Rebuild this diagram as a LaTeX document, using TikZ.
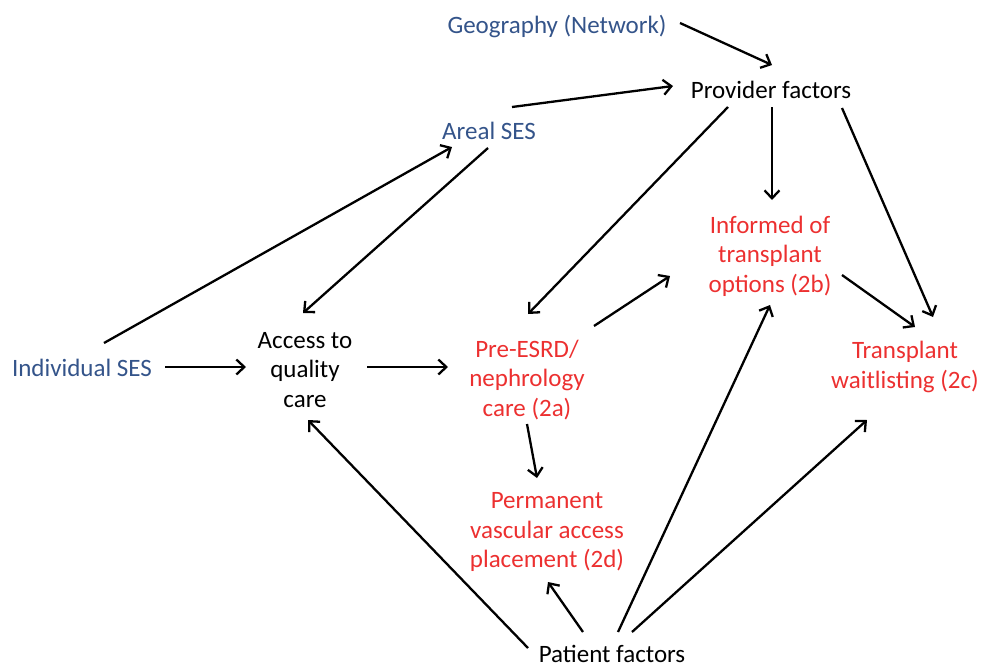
\documentclass[tikz,border=0pt]{standalone}
\usepackage{fontspec}
\setmainfont{Carlito}
\usetikzlibrary{arrows.meta}
\definecolor{dblue}{RGB}{52,84,138}
\definecolor{dred}{RGB}{236,48,48}
\tikzset{
  lbl/.style={align=center,inner sep=0pt,font=\fontsize{25}{29.5}\selectfont},
  bl/.style={lbl,text=dblue},
  rd/.style={lbl,text=dred},
  bk/.style={lbl,text=black},
  arr/.style={line width=2.3pt,-{Straight Barb[length=8pt,width=15pt]}}
}
\begin{document}
\begin{tikzpicture}[x=1pt,y=-1pt]
\useasboundingbox (0,0) rectangle (994,667);
\node[bl] (geo) at (557,27) {Geography (Network)};
\node[bk] (prov) at (771,90) {Provider factors};
\node[bl] (areal) at (489,131) {Areal SES};
\node[bl] (indiv) at (82,368) {Individual SES};
\node[bk] (access) at (305,370) {Access to\\quality\\care};
\node[rd] (pre) at (527,380) {Pre-ESRD/\\nephrology\\care (2a)};
\node[rd] (inf) at (770,256) {Informed of\\transplant\\options (2b)};
\node[rd] (tw) at (905,367) {Transplant\\waitlisting (2c)};
\node[rd] (perm) at (547,532) {Permanent\\vascular access\\placement (2d)};
\node[bk] (pat) at (612,654) {Patient factors};

\draw[arr] ([shift={(123,-4)}]geo.center) -- ([shift={(1,-25)}]prov.center);
\draw[arr] ([shift={(23,-24)}]areal.center) -- ([shift={(-98,-4)}]prov.center);
\draw[arr] ([shift={(-43,17)}]prov.center) -- ([shift={(1,-66)}]pre.center);
\draw[arr] ([shift={(1,17)}]prov.center) -- ([shift={(2,-56)}]inf.center);
\draw[arr] ([shift={(71,18)}]prov.center) -- ([shift={(28,-50)}]tw.center);
\draw[arr] ([shift={(22,-25)}]indiv.center) -- ([shift={(-37,16)}]areal.center);
\draw[arr] ([shift={(-1,17)}]areal.center) -- ([shift={(-2,-57)}]access.center);
\draw[arr] ([shift={(83,-1)}]indiv.center) -- ([shift={(-59,-3)}]access.center);
\draw[arr] ([shift={(62,-3)}]access.center) -- ([shift={(-79,-13)}]pre.center);
\draw[arr] ([shift={(67,-54)}]pre.center) -- ([shift={(-100,20)}]inf.center);
\draw[arr] ([shift={(72,19)}]inf.center) -- ([shift={(10,-40)}]tw.center);
\draw[arr] ([shift={(0,44)}]pre.center) -- ([shift={(-10,-54)}]perm.center);
\draw[arr] ([shift={(-29,-22)}]pat.center) -- ([shift={(1,50)}]perm.center);
\draw[arr] ([shift={(6,-22)}]pat.center) -- ([shift={(0,49)}]inf.center);
\draw[arr] ([shift={(20,-22)}]pat.center) -- ([shift={(-38,53)}]tw.center);
\draw[arr] ([shift={(-84,-6)}]pat.center) -- ([shift={(3,50)}]access.center);
\end{tikzpicture}
\end{document}
